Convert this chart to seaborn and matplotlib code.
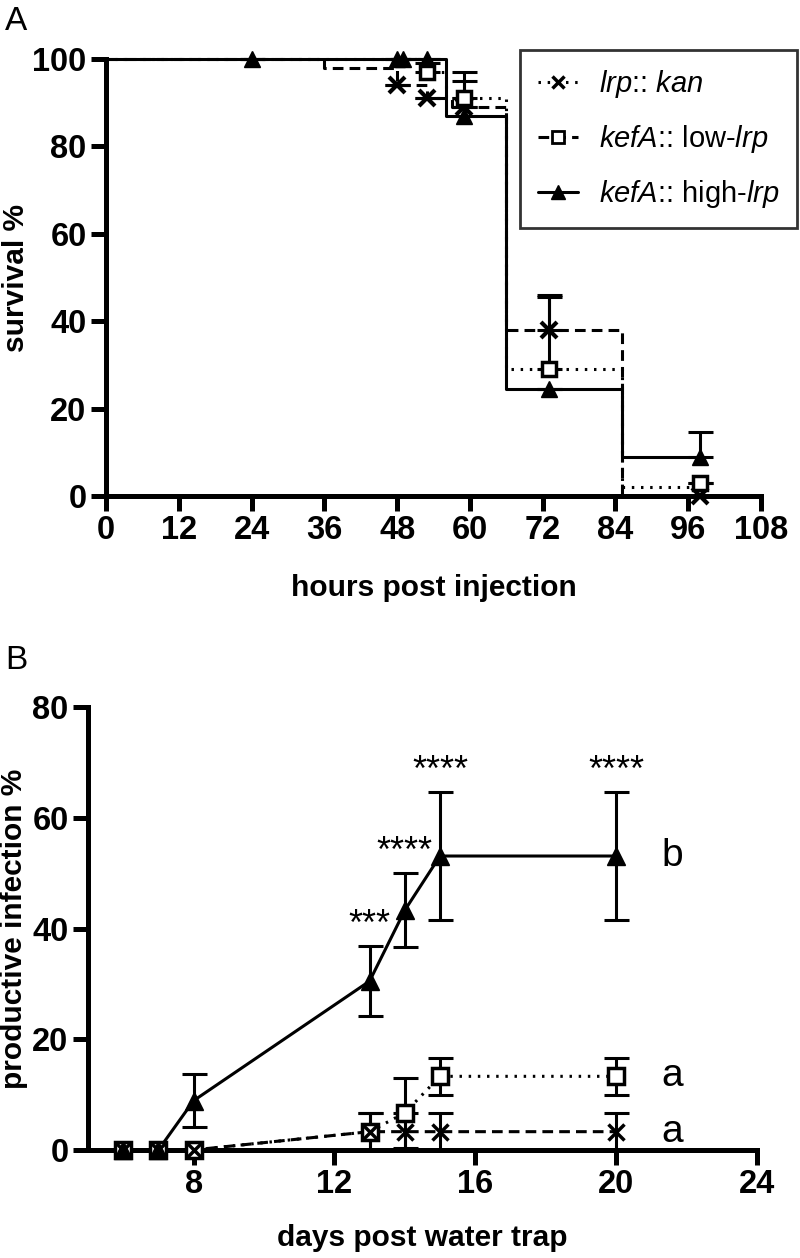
import numpy as np
import matplotlib
matplotlib.use("Agg")
import matplotlib.pyplot as plt
from matplotlib.lines import Line2D
import seaborn as sns

# ---- panel A: survival (Kaplan-Meier steps) ----
kan_step_t = [0, 36, 48, 53, 57, 66, 85, 98]
kan_step_s = [100, 98, 94, 91, 89, 38, 0, 0]
low_step_t = [0, 53, 56, 66, 85, 98]
low_step_s = [100, 97, 91, 29, 2, 2]
high_step_t = [0, 56, 66, 85, 98]
high_step_s = [100, 87, 24.4, 9, 9]

kan_pts_t = [48, 53, 59, 73, 98]
kan_pts_s = [94, 91, 89, 38, 0]
kan_pts_err = [0, 0, 0, 8, 0]
low_pts_t = [53, 59, 73, 98]
low_pts_s = [97, 91, 29, 3]
low_pts_err = [2, 4, 16.5, 0]
high_pts_t = [24, 48, 49, 53, 59, 73, 98]
high_pts_s = [100, 100, 100, 100, 87, 24.4, 9]
high_pts_err = [0, 0, 0, 0, 10, 0, 5.7]

# ---- panel B: productive infection ----
days = [6, 7, 8, 13, 14, 15, 20]
kan_inf = [0, 0, 0, 3.3, 3.3, 3.3, 3.3]
kan_inf_err = [0, 0, 0, 3.3, 3.3, 3.3, 3.3]
low_inf = [0, 0, 0, 3.3, 6.7, 13.3, 13.3]
low_inf_err = [0, 0, 0, 3.3, 6.3, 3.3, 3.3]
high_inf = [0, 0, 8.9, 30.5, 43.3, 53.1, 53.1]
high_inf_err = [0, 0, 4.8, 6.3, 6.7, 11.6, 11.6]
stars = ["", "", "", "***", "****", "****", "****"]

sns.set_theme(style="ticks")
plt.rcParams['font.family'] = ['Liberation Sans', 'DejaVu Sans']
plt.rcParams['mathtext.fontset'] = 'custom'
plt.rcParams['mathtext.rm'] = 'Liberation Sans'
plt.rcParams['mathtext.it'] = 'Liberation Sans:italic'
for k in ['text.color', 'axes.labelcolor', 'xtick.color', 'ytick.color', 'axes.edgecolor']:
    plt.rcParams[k] = 'black'

LW = 2.2
fig = plt.figure(figsize=(8, 12.58), dpi=100)
axA = fig.add_axes([0.1325, 0.6057, 0.8188, 0.3474])
axB = fig.add_axes([0.11, 0.0859, 0.836, 0.352])


def style_axis(ax):
    sns.despine(ax=ax)
    for sp in ["left", "bottom"]:
        ax.spines[sp].set_linewidth(3.6)
    ax.tick_params(axis="both", length=11, width=3.6, labelsize=23.5, pad=3)
    for lab in ax.get_xticklabels() + ax.get_yticklabels():
        lab.set_fontweight("bold")


# panel A
sns.lineplot(x=kan_step_t, y=kan_step_s, ax=axA, color="black", lw=LW,
             linestyle=(0, (3.5, 2)), drawstyle="steps-post", clip_on=False)
sns.lineplot(x=low_step_t, y=low_step_s, ax=axA, color="black", lw=LW,
             linestyle=(0, (0.8, 2.2)), drawstyle="steps-post", clip_on=False)
sns.lineplot(x=high_step_t, y=high_step_s, ax=axA, color="black", lw=LW,
             drawstyle="steps-post", clip_on=False)

axA.errorbar(kan_pts_t, kan_pts_s, yerr=[np.zeros(len(kan_pts_err)), kan_pts_err],
             fmt="none", ecolor="black", elinewidth=LW, capsize=9, capthick=LW, clip_on=False)
axA.errorbar(low_pts_t, low_pts_s, yerr=[np.zeros(len(low_pts_err)), low_pts_err],
             fmt="none", ecolor="black", elinewidth=LW, capsize=9, capthick=LW, clip_on=False)
axA.errorbar(high_pts_t, high_pts_s, yerr=[np.zeros(len(high_pts_err)), high_pts_err],
             fmt="none", ecolor="black", elinewidth=LW, capsize=9, capthick=LW, clip_on=False)
axA.plot(kan_pts_t, kan_pts_s, "x", color="black", ms=11, mew=3, clip_on=False, zorder=5)
axA.plot(low_pts_t, low_pts_s, "s", mfc="white", mec="black", ms=10, mew=2.5, clip_on=False, zorder=5)
axA.plot(high_pts_t, high_pts_s, "^", color="black", ms=12, clip_on=False, zorder=6)

axA.set_xlim(0, 108)
axA.set_ylim(0, 100)
axA.set_xticks(np.arange(0, 109, 12))
axA.set_yticks(np.arange(0, 101, 20))
style_axis(axA)
axA.set_xlabel("hours post injection", fontsize=21.5, fontweight="bold", labelpad=20)
axA.set_ylabel("survival %", fontsize=21.5, fontweight="bold", labelpad=2)

handles = [
    Line2D([], [], color="black", lw=LW, linestyle=(0, (0.8, 2.2)), marker="x", ms=9, mew=2.5),
    Line2D([], [], color="black", lw=LW, linestyle=(0, (3.5, 2)), marker="s", ms=8, mew=2,
           mfc="white", mec="black"),
    Line2D([], [], color="black", lw=LW, marker="^", ms=10),
]
labels = [r"$\it{lrp}$:: $\it{kan}$", r"$\it{kefA}$:: low-$\it{lrp}$",
          r"$\it{kefA}$:: high-$\it{lrp}$"]
leg = fig.legend(handles, labels, loc="upper left", bbox_to_anchor=(0.65, 0.96),
                 fontsize=21, frameon=True, fancybox=False, edgecolor="black",
                 handlelength=1.4, borderpad=0.6, labelspacing=0.8, handletextpad=0.7,
                 borderaxespad=0)
leg.get_frame().set_linewidth(2)

# panel B
sns.lineplot(x=days, y=kan_inf, ax=axB, color="black", lw=LW,
             linestyle=(0, (3.5, 2)), clip_on=False)
sns.lineplot(x=days, y=low_inf, ax=axB, color="black", lw=LW,
             linestyle=(0, (0.8, 2.2)), clip_on=False)
sns.lineplot(x=days, y=high_inf, ax=axB, color="black", lw=LW, clip_on=False)
for vals, err in [(kan_inf, kan_inf_err), (low_inf, low_inf_err), (high_inf, high_inf_err)]:
    axB.errorbar(days, vals, yerr=err, fmt="none", ecolor="black", elinewidth=LW,
                 capsize=9, capthick=LW, clip_on=False)
axB.plot(days, low_inf, "s", mfc="white", mec="black", ms=11, mew=2.5, clip_on=False, zorder=5)
axB.plot(days, kan_inf, "x", color="black", ms=11, mew=2.5, clip_on=False, zorder=6)
axB.plot(days, high_inf, "^", color="black", ms=13, clip_on=False, zorder=7)

for d, v, e, s in zip(days, high_inf, high_inf_err, stars):
    if s:
        axB.text(d, v + e + 0.6, s, ha="center", va="bottom", fontsize=26)
axB.text(21.6, high_inf[-1], "b", ha="center", va="center", fontsize=28)
axB.text(21.6, low_inf[-1], "a", ha="center", va="center", fontsize=28)
axB.text(21.6, kan_inf[-1], "a", ha="center", va="center", fontsize=28)

axB.set_xlim(5, 24)
axB.set_ylim(0, 80)
axB.set_xticks([8, 12, 16, 20, 24])
axB.set_yticks(np.arange(0, 81, 20))
style_axis(axB)
axB.set_xlabel("days post water trap", fontsize=21.5, fontweight="bold", labelpad=17)
axB.set_ylabel("productive infection %", fontsize=21.5, fontweight="bold", labelpad=3)

fig.text(0.006, 0.995, "A", fontsize=24, va="top", ha="left")
fig.text(0.006, 0.487, "B", fontsize=24, va="top", ha="left")

fig.savefig("out.png", dpi=100)
